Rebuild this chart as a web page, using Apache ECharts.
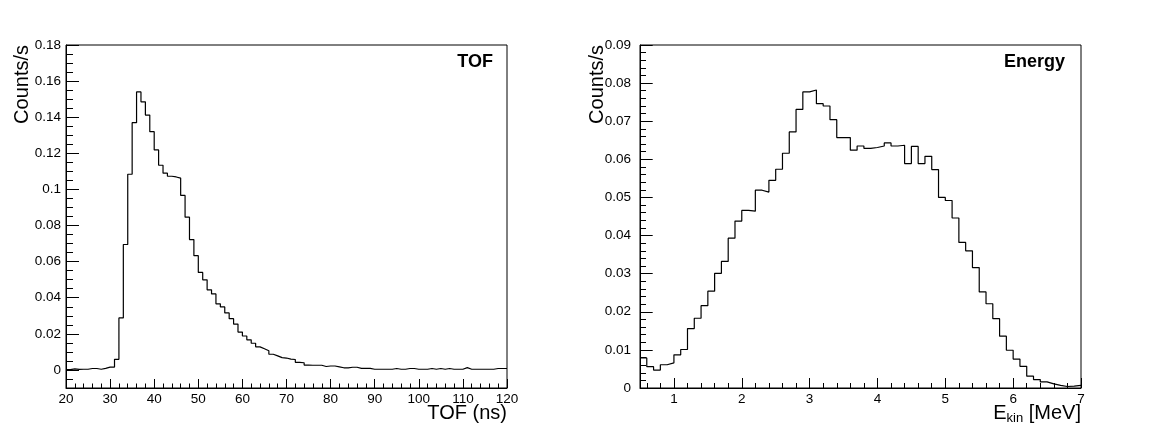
<!DOCTYPE html>
<html>
<head>
<meta charset="utf-8">
<script src="https://cdn.jsdelivr.net/npm/echarts@6/dist/echarts.min.js"></script>
<style>
html,body{margin:0;padding:0;background:#fff;}
#c{width:1149px;height:436px;}
</style>
</head>
<body>
<div id="c"></div>
<script>
// ---- TOF histogram (1 ns bins, 20..120 ns) ----
var tofStart = 20;
var tofBinWidth = 1;
var tofCounts = [
  0.0002, 0.0006, 0.0003, 0.0004, 0.0004, 0.0008, 0.0008, 0.0004, 0.0009, 0.0016,
  0.0016, 0.0059, 0.0288, 0.0695, 0.1084, 0.1370, 0.1540, 0.1485, 0.1412, 0.1320,
  0.1219, 0.1134, 0.1090, 0.1073, 0.1069, 0.1063, 0.0967, 0.0846, 0.0722, 0.0633,
  0.0540, 0.0499, 0.0444, 0.0421, 0.0366, 0.0349, 0.0316, 0.0284, 0.0254, 0.0210,
  0.0188, 0.0167, 0.0148, 0.0128, 0.0117, 0.0106, 0.0087, 0.0078, 0.0068, 0.0066,
  0.0060, 0.0058, 0.0042, 0.0040, 0.0027, 0.0026, 0.0026, 0.0026, 0.0019, 0.0022,
  0.0022, 0.0017, 0.0012, 0.0012, 0.0015, 0.0015, 0.0009, 0.0009, 0.0009, 0.0004,
  0.0004, 0.0004, 0.0004, 0.0004, 0.0008, 0.0004, 0.0004, 0.0008, 0.0008, 0.0004,
  0.0004, 0.0004, 0.0008, 0.0004, 0.0008, 0.0004, 0.0008, 0.0004, 0.0004, 0.0004,
  0.0013, 0.0004, 0.0004, 0.0004, 0.0004, 0.0004, 0.0004, 0.0008, 0.0008, 0.0008
];
var tofYMajor = [0, 0.02, 0.04, 0.06, 0.08, 0.1, 0.12, 0.14, 0.16, 0.18];

// ---- Energy histogram (0.1 MeV bins, 0.5..7 MeV) ----
var eStart = 0.5;
var eBinWidth = 0.1;
var eCounts = [
  0.0079, 0.0056, 0.0047, 0.0061, 0.0066, 0.0087, 0.0101, 0.0156, 0.0183, 0.0216,
  0.0254, 0.0301, 0.0332, 0.0393, 0.0438, 0.0466, 0.0464, 0.0519, 0.0514, 0.0545,
  0.0574, 0.0616, 0.0672, 0.0731, 0.0777, 0.0782, 0.0746, 0.0740, 0.0704, 0.0657,
  0.0657, 0.0624, 0.0635, 0.0629, 0.0631, 0.0635, 0.0643, 0.0635, 0.0637, 0.0589,
  0.0634, 0.0589, 0.0608, 0.0573, 0.0500, 0.0492, 0.0446, 0.0382, 0.0360, 0.0316,
  0.0252, 0.0221, 0.0182, 0.0136, 0.0099, 0.0076, 0.0057, 0.0031, 0.0022, 0.0016,
  0.0011, 0.0007, 0.0004, 0.0005, 0.0007
];
var eXMajor = [1, 2, 3, 4, 5, 6, 7];

// ---- build step points (left bin edges + closing edge) ----
function stepPoints(start, width, counts) {
  var pts = counts.map(function (v, i) {
    return [Math.round((start + i * width) * 1000) / 1000, v];
  });
  pts.push([Math.round((start + counts.length * width) * 1000) / 1000, counts[counts.length - 1]]);
  return pts;
}
function minorList(lo, hi, step, majors) {
  var out = [];
  var n = Math.round((hi - lo) / step);
  for (var i = 0; i <= n; i++) {
    var v = Math.round((lo + i * step) * 10000) / 10000;
    var isMajor = majors.some(function (m) { return Math.abs(m - v) < 1e-9; });
    if (!isMajor) out.push(v);
  }
  return out;
}

var FONT = "'Liberation Sans', Arial, Helvetica, sans-serif";
var black = '#000';
var lab = { color: black, fontFamily: FONT, fontSize: 13.5 };
var tickLine = { color: black, width: 1 };

var chart = echarts.init(document.getElementById('c'), null, { renderer: 'canvas' });
chart.setOption({
  animation: false,
  backgroundColor: '#fff',
  grid: [
    { left: 66, top: 45, width: 441, height: 343, show: true, borderColor: black, borderWidth: 1, backgroundColor: 'transparent' },
    { left: 640, top: 45, width: 441, height: 343, show: true, borderColor: black, borderWidth: 1, backgroundColor: 'transparent' }
  ],
  xAxis: [
    {
      gridIndex: 0, type: 'value', position: 'bottom', min: 20, max: 120, interval: 10,
      axisLine: { show: true, onZero: false, lineStyle: { color: black, width: 1 } },
      axisTick: { show: true, inside: true, length: 9, lineStyle: tickLine },
      minorTick: { show: true, splitNumber: 5, length: 4.5, lineStyle: tickLine },
      axisLabel: Object.assign({ margin: 4 }, lab),
      splitLine: { show: false }, minorSplitLine: { show: false }
    },
    {
      gridIndex: 1, type: 'value', position: 'bottom', min: 0.5, max: 7,
      axisLine: { show: true, onZero: false, lineStyle: { color: black, width: 1 } },
      axisTick: { show: true, inside: true, length: 10, customValues: eXMajor, lineStyle: tickLine },
      axisLabel: Object.assign({ margin: 4, customValues: eXMajor }, lab),
      splitLine: { show: false }
    },
    {
      gridIndex: 1, type: 'value', position: 'bottom', min: 0.5, max: 7,
      axisLine: { show: false, onZero: false },
      axisTick: { show: true, inside: true, length: 5, customValues: minorList(0.6, 6.8, 0.2, eXMajor), lineStyle: tickLine },
      axisLabel: { show: false },
      splitLine: { show: false }
    }
  ],
  yAxis: [
    {
      gridIndex: 0, type: 'value', position: 'left', min: -0.01, max: 0.18,
      axisLine: { show: true, onZero: false, lineStyle: { color: black, width: 1 } },
      axisTick: { show: true, inside: true, length: 13, customValues: tofYMajor, lineStyle: tickLine },
      axisLabel: Object.assign({ margin: 5, customValues: tofYMajor }, lab),
      splitLine: { show: false }
    },
    {
      gridIndex: 0, type: 'value', position: 'left', min: -0.01, max: 0.18,
      axisLine: { show: false, onZero: false },
      axisTick: { show: true, inside: true, length: 7, customValues: minorList(-0.01, 0.175, 0.005, tofYMajor), lineStyle: tickLine },
      axisLabel: { show: false },
      splitLine: { show: false }
    },
    {
      gridIndex: 1, type: 'value', position: 'left', min: 0, max: 0.09, interval: 0.01,
      axisLine: { show: true, onZero: false, lineStyle: { color: black, width: 1 } },
      axisTick: { show: true, inside: true, length: 12.7, lineStyle: tickLine },
      minorTick: { show: true, splitNumber: 5, length: 6, lineStyle: tickLine },
      axisLabel: Object.assign({ margin: 9 }, lab),
      splitLine: { show: false }, minorSplitLine: { show: false }
    }
  ],
  series: [
    {
      type: 'line', step: 'end', xAxisIndex: 0, yAxisIndex: 0,
      data: stepPoints(tofStart, tofBinWidth, tofCounts),
      showSymbol: false, symbol: 'none',
      lineStyle: { color: black, width: 1.2 }
    },
    {
      type: 'line', step: 'end', xAxisIndex: 1, yAxisIndex: 2,
      data: stepPoints(eStart, eBinWidth, eCounts),
      showSymbol: false, symbol: 'none',
      lineStyle: { color: black, width: 1.2 }
    }
  ],
  graphic: [
    { type: 'text', x: 493, y: 53, style: { text: 'TOF', fill: black, font: 'bold 18px ' + FONT, textAlign: 'right', textVerticalAlign: 'top' } },
    { type: 'text', x: 1065, y: 53, style: { text: 'Energy', fill: black, font: 'bold 18px ' + FONT, textAlign: 'right', textVerticalAlign: 'top' } },
    { type: 'text', x: 507, y: 413, style: { text: 'TOF (ns)', fill: black, font: '20px ' + FONT, textAlign: 'right', textVerticalAlign: 'middle' } },
    { type: 'text', x: 22, y: 45, rotation: Math.PI / 2, style: { text: 'Counts/s', fill: black, font: '20px ' + FONT, textAlign: 'right', textVerticalAlign: 'middle' } },
    { type: 'text', x: 597, y: 45, rotation: Math.PI / 2, style: { text: 'Counts/s', fill: black, font: '20px ' + FONT, textAlign: 'right', textVerticalAlign: 'middle' } },
    { type: 'text', x: 1081, y: 413, style: {
        text: '{a|E}{s|kin}{a| [MeV]}', textAlign: 'right', textVerticalAlign: 'middle',
        rich: {
          a: { fontFamily: FONT, fontSize: 20, fill: black, verticalAlign: 'middle' },
          s: { fontFamily: FONT, fontSize: 13, fill: black, padding: [10, 0, 0, 0] }
        }
    } }
  ]
});
</script>
</body>
</html>
